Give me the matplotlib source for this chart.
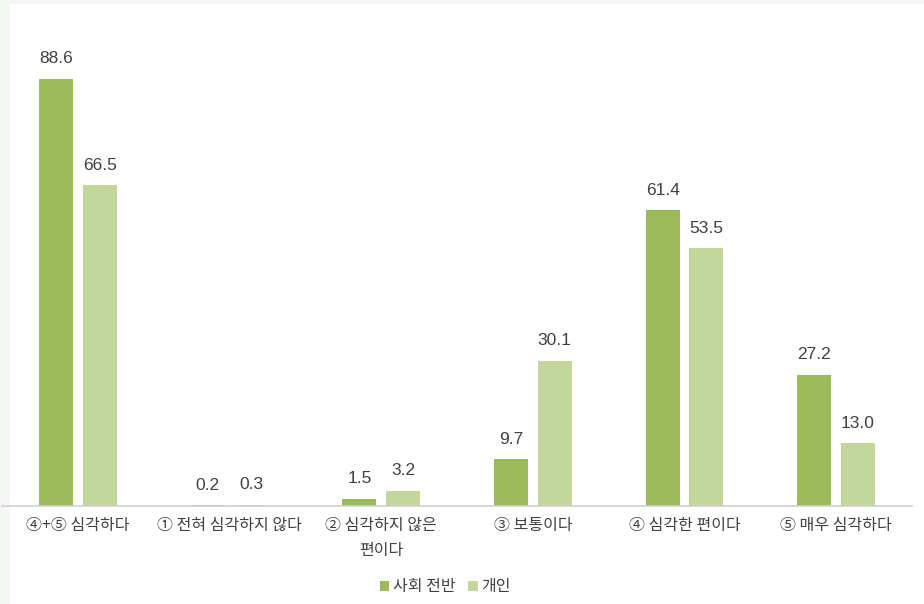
import matplotlib.pyplot as plt
from matplotlib.patches import Rectangle
import numpy as np

plt.rcParams['font.family'] = ['Noto Sans CJK KR', 'DejaVu Sans']

categories = ['④+⑤ 심각하다', '① 전혀 심각하지 않다', '② 심각하지 않은\n편이다',
              '③ 보통이다', '④ 심각한 편이다', '⑤ 매우 심각하다']
society = [88.6, 0.2, 1.5, 9.7, 61.4, 27.2]
personal = [66.5, 0.3, 3.2, 30.1, 53.5, 13.0]
series_names = ['사회 전반', '개인']

dark = '#9bbb59'
light = '#c4d79b'
text_col = '#404040'

W, H = 924, 604
fig = plt.figure(figsize=(W / 100, H / 100), dpi=100, facecolor='#f5f7f5')
fig.patches.append(Rectangle((10 / W, 0), 1, (H - 4) / H, transform=fig.transFigure,
                             facecolor='white', edgecolor='none', zorder=-10))

ax = fig.add_axes([2 / W, (H - 506) / H, 910 / W, 482 / H])
ax.set_facecolor('none')

x = np.arange(len(categories))
off = 0.144
bw = 0.224
b1 = ax.bar(x - off, society, bw, color=dark, label=series_names[0])
b2 = ax.bar(x + off, personal, bw, color=light, label=series_names[1])

for bars, vals in [(b1, society), (b2, personal)]:
    for b, v in zip(bars, vals):
        ax.annotate(f'{v:.1f}', (b.get_x() + b.get_width() / 2, v),
                    xytext=(0, 9), textcoords='offset points', ha='center', va='bottom',
                    fontsize=12.5, color=text_col, family=['Liberation Sans', 'DejaVu Sans'])

ax.set_xlim(-0.5, 5.5)
ax.set_ylim(0, 100)
ax.set_yticks([])
for s in ['top', 'right', 'left']:
    ax.spines[s].set_visible(False)
ax.spines['bottom'].set_color('#d0d0d0')
ax.spines['bottom'].set_linewidth(1.2)
ax.set_xticks(x)
ax.set_xticklabels(categories, fontsize=11.5, color=text_col, linespacing=1.6,
                   fontweight='medium')
ax.tick_params(axis='x', length=0, pad=8)

fig.legend(handles=[b1, b2], labels=series_names, loc='center', bbox_to_anchor=(445 / W, (H - 587) / H),
           ncol=2, frameon=False, handlelength=0.6, handleheight=0.6,
           handletextpad=0.2, columnspacing=0.8, labelcolor=text_col,
           prop={'size': 11.5, 'weight': 'medium'})

fig.savefig('out.png', dpi=100, facecolor=fig.get_facecolor())
